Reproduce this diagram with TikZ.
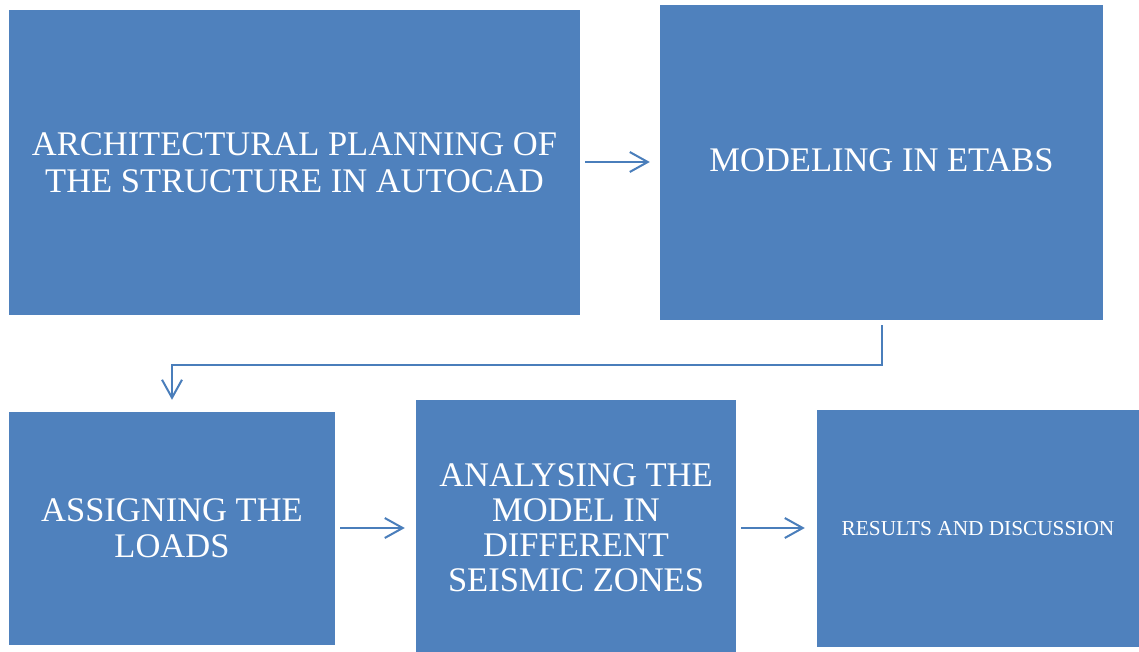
\documentclass[tikz,border=0pt]{standalone}
\usepackage{fontspec}
\setmainfont{Liberation Serif}
\usetikzlibrary{arrows.meta}
\definecolor{boxblue}{HTML}{4F81BD}
\definecolor{arrblue}{HTML}{4A7EBB}
\tikzset{
  stepbox/.style={rectangle, fill=boxblue, draw=none, inner sep=0pt, text=white, align=center,
    font=\fontsize{34.5}{36}\selectfont},
  flow/.style={draw=arrblue, line width=2pt, -{Straight Barb[length=18pt,width=20pt,line width=2pt]}}
}
\begin{document}
\begin{tikzpicture}[x=1pt,y=-1pt]
\useasboundingbox (0,0) rectangle (1139,652);
\node[stepbox, minimum width=571pt, minimum height=305pt, font=\fontsize{34.5}{37}\selectfont] (a) at (294.5,162.5) {ARCHITECTURAL PLANNING OF\\THE STRUCTURE IN AUTOCAD};
\node[stepbox, minimum width=443pt, minimum height=315pt] (b) at (881.5,162.5) {};
\node[text=white, inner sep=0pt, font=\fontsize{34.5}{36}\selectfont] (bt) at (881.5,160) {MODELING IN ETABS};
\node[stepbox, minimum width=326pt, minimum height=233pt] (c) at (172,528.5) {ASSIGNING THE\\LOADS};
\node[stepbox, minimum width=320pt, minimum height=252pt, font=\fontsize{34.5}{35}\selectfont] (d) at (576,526) {};
\node[text=white, inner sep=0pt, align=center, font=\fontsize{34.5}{35}\selectfont] (dt) at (576,528) {ANALYSING THE\\MODEL IN\\DIFFERENT\\SEISMIC ZONES};
\node[stepbox, minimum width=322pt, minimum height=237pt, font=\fontsize{21.3}{24}\selectfont] (e) at (978,528.5) {RESULTS AND DISCUSSION};
\coordinate (k1) at (882,365);
\coordinate (k2) at (172,365);
\draw[flow, shorten <=5pt, shorten >=10pt] (a.east |- 0,162) -- (b.west |- 0,162);
\draw[flow, shorten <=5pt, shorten >=12pt] (b.south -| k1) -- (k1) -- (k2) -- (c.north);
\draw[flow, shorten <=5pt, shorten >=11pt] (c.east |- 0,528) -- (d.west |- 0,528);
\draw[flow, shorten <=5pt, shorten >=12pt] (d.east |- 0,528) -- (e.west |- 0,528);
\end{tikzpicture}
\end{document}
